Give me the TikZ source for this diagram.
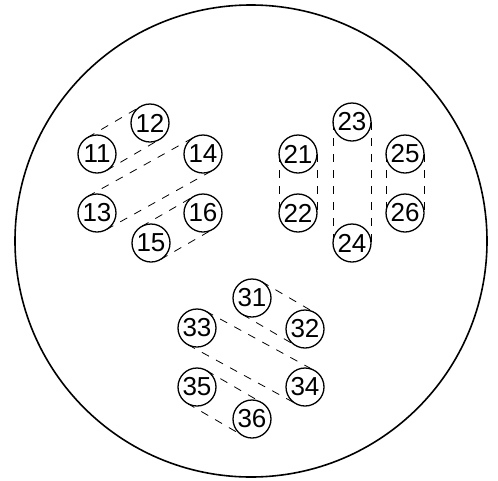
\documentclass[tikz,border=0pt]{standalone}
\usepackage{fontspec}
\setmainfont{Liberation Sans}
\usetikzlibrary{calc}

\tikzset{
  pin/.style={circle, draw, line width=1.3pt, minimum size=38pt, inner sep=0pt,
              font=\fontsize{26}{26}\selectfont},
  pair/.style={dashed, dash pattern=on 8pt off 8pt, line width=0.8pt}
}
% draws the two outer tangents of a pair of pins
\newcommand{\pairlines}[2]{%
  \draw[pair] ($(#1)!19pt!90:(#2)$) -- ($(#2)!19pt!-90:(#1)$);
  \draw[pair] ($(#1)!19pt!-90:(#2)$) -- ($(#2)!19pt!90:(#1)$);
}

\begin{document}
\begin{tikzpicture}[x=1pt, y=-1pt]
  \useasboundingbox (0,0) rectangle (498,480);
  \draw[line width=1.6pt] (251,241) circle (236pt);

  % first group
  \node[pin] (p11) at (97,154) {11};
  \node[pin] (p12) at (150,123) {12};
  \node[pin] (p13) at (97,213) {13};
  \node[pin] (p14) at (203,154) {14};
  \node[pin] (p15) at (151,243) {15};
  \node[pin] (p16) at (203,213) {16};

  % second group
  \node[pin] (p21) at (298,154) {21};
  \node[pin] (p22) at (298,213) {22};
  \node[pin] (p23) at (352,122) {23};
  \node[pin] (p24) at (352,243) {24};
  \node[pin] (p25) at (405,154) {25};
  \node[pin] (p26) at (405,213) {26};

  % third group
  \node[pin] (p31) at (252,298) {31};
  \node[pin] (p32) at (305,329) {32};
  \node[pin] (p33) at (197,328) {33};
  \node[pin] (p34) at (305,387) {34};
  \node[pin] (p35) at (197,387) {35};
  \node[pin] (p36) at (252,419) {36};

  \pairlines{p11}{p12}
  \pairlines{p13}{p14}
  \pairlines{p15}{p16}
  \pairlines{p21}{p22}
  \pairlines{p23}{p24}
  \pairlines{p25}{p26}
  \pairlines{p31}{p32}
  \pairlines{p33}{p34}
  \pairlines{p35}{p36}
\end{tikzpicture}
\end{document}
